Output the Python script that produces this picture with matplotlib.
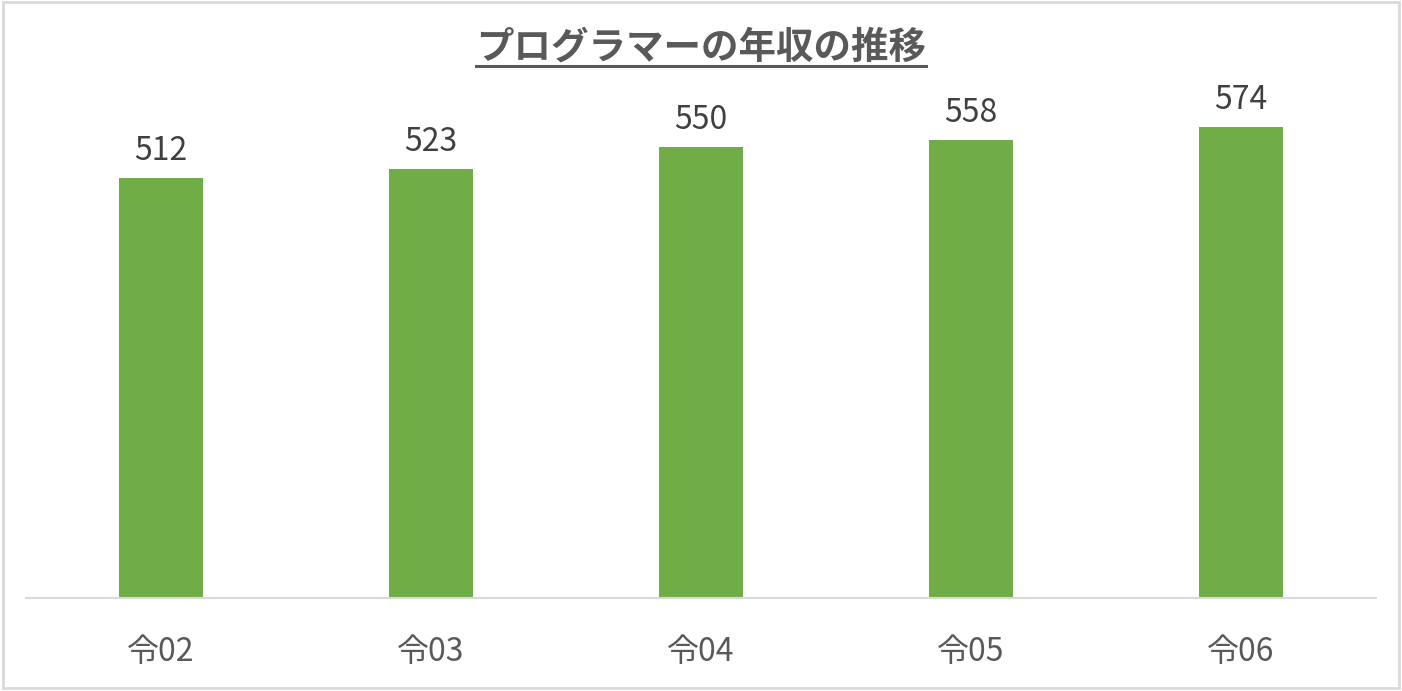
import matplotlib
matplotlib.use('Agg')
import matplotlib.pyplot as plt
from matplotlib.lines import Line2D
from matplotlib.patches import Rectangle

plt.rcParams['font.family'] = ['Noto Sans CJK JP', 'DejaVu Sans']

categories = ['令02', '令03', '令04', '令05', '令06']
salary = [512, 523, 550, 558, 574]
title = 'プログラマーの年収の推移'

W, H = 1402, 691
fig = plt.figure(figsize=(W / 100, H / 100), dpi=100)

# outer frame like the Excel chart area
fig.patches.append(Rectangle((3 / W, 3 / H), (W - 6) / W, (H - 5) / H,
                             transform=fig.transFigure, fill=False,
                             edgecolor='#D9D9D9', linewidth=2))

ax = fig.add_axes([26 / W, (H - 598) / H, 1350 / W, 576 / H])
x = range(len(categories))
bars = ax.bar(x, salary, width=0.312, color='#70AD47')
ax.set_xlim(-0.5, len(categories) - 0.5)
ax.set_ylim(0, 702)

for s in ['top', 'right', 'left']:
    ax.spines[s].set_visible(False)
ax.spines['bottom'].set_color('#D9D9D9')
ax.spines['bottom'].set_linewidth(1.5)
ax.set_yticks([])
ax.set_xticks(list(x))
ax.set_xticklabels(categories, fontsize=23, color='#595959')
ax.tick_params(axis='x', length=0, pad=27)

for b, v in zip(bars, salary):
    ax.annotate(str(v), (b.get_x() + b.get_width() / 2, v),
                xytext=(0, 8), textcoords='offset points',
                ha='center', va='bottom', fontsize=23, color='#404040')

t = fig.text(0.5, (H - 47) / H, title, ha='center', va='center',
             fontsize=27, fontweight='bold', color='#595959')

# underline under the title
fig.canvas.draw()
bb = t.get_window_extent(fig.canvas.get_renderer())
uy = (H - 66) / H
fig.lines.append(Line2D([bb.x0 / W, bb.x1 / W], [uy, uy],
                        transform=fig.transFigure, color='#595959', linewidth=2.2))

fig.savefig('out.png', dpi=100)
